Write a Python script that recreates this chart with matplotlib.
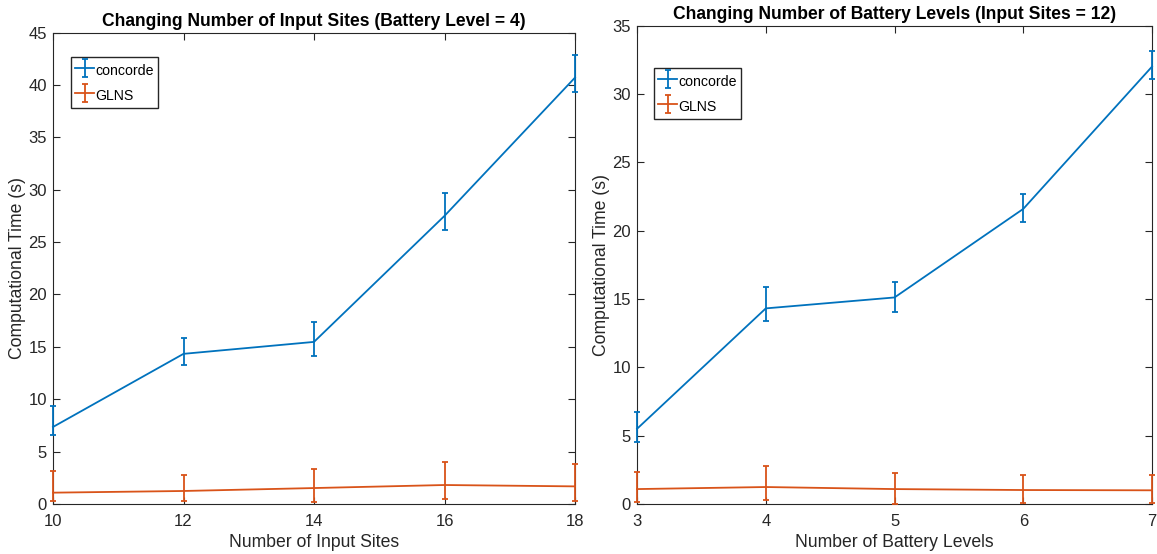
import matplotlib.pyplot as plt
import numpy as np
from matplotlib.legend_handler import HandlerErrorbar
from matplotlib.container import ErrorbarContainer

plt.rcParams['font.family'] = ['Liberation Sans', 'DejaVu Sans']

# left panel: vary input sites, battery level = 4
sites = [10, 12, 14, 16, 18]
conc_sites = [7.35, 14.33, 15.47, 27.5, 40.7]
conc_sites_lo = [6.56, 13.31, 14.14, 26.15, 39.33]
conc_sites_hi = [9.35, 15.88, 17.34, 29.71, 42.83]
glns_sites = [1.08, 1.24, 1.52, 1.81, 1.68]
glns_sites_lo = [0.32, 0.25, 0.19, 0.44, 0.32]
glns_sites_hi = [3.11, 2.76, 3.36, 3.99, 3.84]

# right panel: vary battery levels, input sites = 12
levels = [3, 4, 5, 6, 7]
conc_lev = [5.5, 14.31, 15.11, 21.59, 32.0]
conc_lev_lo = [4.53, 13.36, 14.04, 20.61, 31.1]
conc_lev_hi = [6.72, 15.86, 16.25, 22.68, 33.12]
glns_lev = [1.09, 1.24, 1.09, 1.02, 1.0]
glns_lev_lo = [0.15, 0.27, 0.02, 0.05, 0.07]
glns_lev_hi = [2.36, 2.77, 2.26, 2.12, 2.12]

blue = '#0072BD'
orange = '#D95319'
axcol = '#262626'


def panel(ax, x, xticks, c, clo, chi, g, glo, ghi, title, xlabel, ymax, leg_anchor):
    c, g = np.array(c), np.array(g)
    cerr = [c - np.array(clo), np.array(chi) - c]
    gerr = [g - np.array(glo), np.array(ghi) - g]
    ax.errorbar(x, c, yerr=cerr, color=blue, lw=1.3, elinewidth=1.3,
                capsize=2, capthick=1.3, label='concorde', clip_on=False, zorder=3)
    ax.errorbar(x, g, yerr=gerr, color=orange, lw=1.3, elinewidth=1.3,
                capsize=2, capthick=1.3, label='GLNS', clip_on=False, zorder=3)
    ax.set_xlim(x[0], x[-1])
    ax.set_ylim(0, ymax)
    ax.set_xticks(xticks)
    ax.set_yticks(np.arange(0, ymax + 1, 5))
    ax.set_title(title, fontsize=12.65, fontweight='bold', pad=5)
    ax.set_xlabel(xlabel, fontsize=12.7, color=axcol, labelpad=4)
    ax.set_ylabel('Computational Time (s)', fontsize=12.7, color=axcol, labelpad=2)
    ax.tick_params(direction='in', top=True, right=True, labelsize=12,
                   colors=axcol, length=5, width=0.8)
    ax.tick_params(axis='x', pad=7)
    ax.tick_params(axis='y', pad=4.3)
    for s in ax.spines.values():
        s.set_color(axcol)
        s.set_linewidth(0.8)
    ax.legend(loc='upper left', bbox_to_anchor=leg_anchor, fontsize=10.2,
              fancybox=False, framealpha=1, edgecolor=axcol, handlelength=1.35,
              handleheight=1.6, handletextpad=0.07, borderpad=0.3, labelspacing=0.45,
              borderaxespad=0,
              handler_map={ErrorbarContainer: HandlerErrorbar(xerr_size=0.63)})


fig = plt.figure(figsize=(11.57, 5.54), dpi=100)
ax1 = fig.add_axes([0.0458, 0.0903, 0.4512, 0.851])
ax2 = fig.add_axes([0.5506, 0.0903, 0.4451, 0.8635])

panel(ax1, sites, [10, 12, 14, 16, 18], conc_sites, conc_sites_lo, conc_sites_hi,
      glns_sites, glns_sites_lo, glns_sites_hi,
      'Changing Number of Input Sites (Battery Level = 4)', 'Number of Input Sites', 45,
      (0.0345, 0.948))
panel(ax2, levels, [3, 4, 5, 6, 7], conc_lev, conc_lev_lo, conc_lev_hi,
      glns_lev, glns_lev_lo, glns_lev_hi,
      'Changing Number of Battery Levels (Input Sites = 12)', 'Number of Battery Levels', 35,
      (0.033, 0.911))

fig.savefig('out.png', dpi=100)
